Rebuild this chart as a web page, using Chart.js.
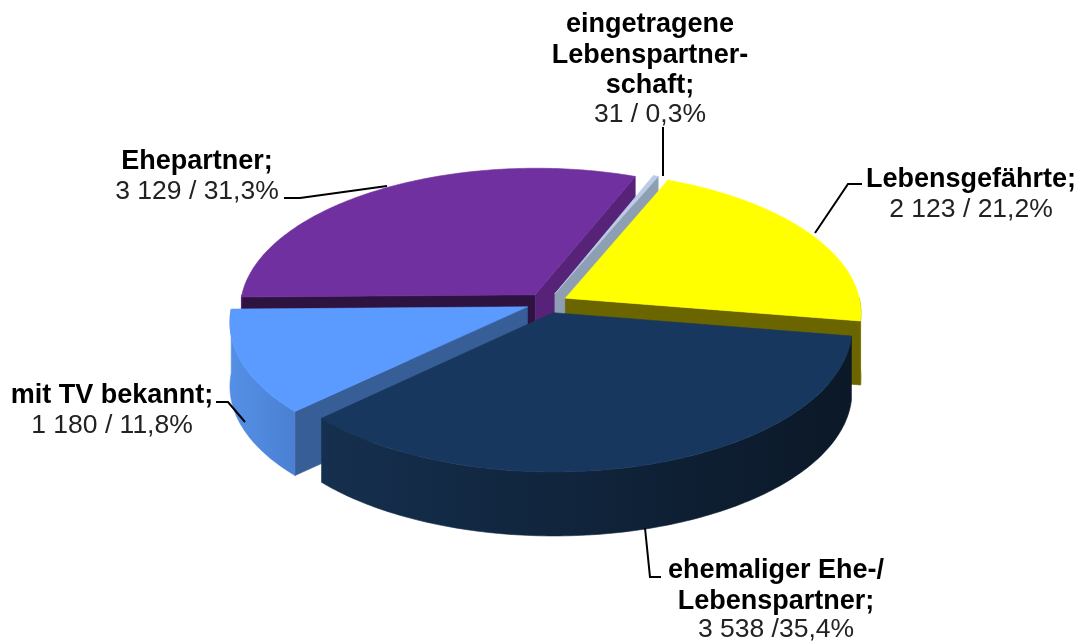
<!DOCTYPE html>
<html><head><meta charset="utf-8">
<style>html,body{margin:0;padding:0;background:#fff;overflow:hidden}canvas{display:block}</style>
<script src="https://cdn.jsdelivr.net/npm/chart.js@4/dist/chart.umd.min.js"></script>
</head><body><canvas id="c" width="1081" height="641"></canvas>
<script>
const categories = ["eingetragene Lebenspartnerschaft","Lebensgefährte","ehemaliger Ehe-/Lebenspartner","mit TV bekannt","Ehepartner"];
const counts = [31,2123,3538,1180,3129];
const boldLines = [["eingetragene","Lebenspartner-","schaft;"],["Lebensgefährte;"],["ehemaliger Ehe-/","Lebenspartner;"],["mit TV bekannt;"],["Ehepartner;"]];
const valueLines = ["31 / 0,3%","2 123 / 21,2%","3 538 /35,4%","1 180 / 11,8%","3 129 / 31,3%"];
const topColors = ["#b9cde5","#ffff00","#17375e","#5b9bff","#7030a0"];
const startFaceColors = ["#8e9fb3","#6b6500","#12293f","#375e96","#2e1240"];
const endFaceColors = ["#8e9fb3","#6b6500","#12293f","#375e96","#562379"];
const wallColors = [["#8e9fb3","#8e9fb3"],["#807a00","#6b6500"],["#0b1827","#152f4e"],["#4a80d2","#5590e6"],["#562379","#562379"]];
const drawOrder = [4,0,1,3,2];
const view = {k:0.478, depth:64, persp:2900};
const labelLayout = [
 {x:650,y:[25,56,86,115],line:[[663,127],[663,176]]},
 {x:971,y:[180,210],line:[[815,233],[848,184],[862,184]]},
 {x:776,y:[571,602,630],line:[[645,528],[650,577],[661,577]]},
 {x:112,y:[396,426],line:[[245,422],[228,402],[216,402]]},
 {x:197,y:[162,192],line:[[387,186],[300,198],[284,198]]}
];
function project(a,lx,ly,z){
  const s=1/(1-ly/view.persp);
  return [a.x+lx*s, a.y+ly*view.k*s+z];
}
function poly(ctx,pts,fill){
  ctx.beginPath();
  pts.forEach((p,i)=>i?ctx.lineTo(p[0],p[1]):ctx.moveTo(p[0],p[1]));
  ctx.closePath();ctx.fillStyle=fill;ctx.fill();
  ctx.strokeStyle=fill;ctx.lineWidth=0.6;ctx.stroke();
}
function drawSlice(ctx,arc,i){
  const p=arc.getProps(['x','y','startAngle','endAngle','outerRadius'],true);
  const a1=p.startAngle,a2=p.endAngle,R=p.outerRadius,off=arc.options.offset,mid=(a1+a2)/2;
  const ox=Math.cos(mid)*off,oy=Math.sin(mid)*off;
  const rim=(a,z)=>project(p,ox+Math.cos(a)*R,oy+Math.sin(a)*R,z);
  const apex=z=>project(p,ox,oy,z);
  const h=view.depth;
  if(Math.cos(a1)<0) poly(ctx,[apex(0),rim(a1,0),rim(a1,h),apex(h)],startFaceColors[i]);
  if(Math.cos(a2)>0) poly(ctx,[apex(0),rim(a2,0),rim(a2,h),apex(h)],endFaceColors[i]);
  // outer wall: the part of the rim facing the viewer
  const w1=Math.max(a1,0),w2=Math.min(a2,Math.PI);
  const ranges=[[w1,w2],[Math.max(a1,2*Math.PI),Math.min(a2,3*Math.PI)]];
  ranges.forEach(([b1,b2])=>{
    if(b2<=b1) return;
    const n=Math.ceil((b2-b1)*60),up=[],dn=[];
    for(let j=0;j<=n;j++){const a=b1+(b2-b1)*j/n;up.push(rim(a,0));dn.unshift(rim(a,h));}
    const xs=up.concat(dn).map(q=>q[0]);
    const g=ctx.createLinearGradient(Math.min(...xs),0,Math.max(...xs),0);
    g.addColorStop(0,wallColors[i][1]);g.addColorStop(1,wallColors[i][0]);
    poly(ctx,up.concat(dn),g);
  });
  const n=Math.ceil((a2-a1)*60)+1,pts=[apex(0)];
  for(let j=0;j<=n;j++)pts.push(rim(a1+(a2-a1)*j/n,0));
  poly(ctx,pts,arc.options.backgroundColor);
}
const pie3d={id:'pie3d',
  beforeDatasetDraw(chart,args){
    const ctx=chart.ctx,arcs=args.meta.data;
    ctx.save();
    drawOrder.forEach(i=>drawSlice(ctx,arcs[i],i));
    ctx.restore();
    return false;
  },
  afterDraw(chart){
    const ctx=chart.ctx;
    ctx.save();
    labelLayout.forEach((l,i)=>{
      ctx.beginPath();
      l.line.forEach((q,j)=>j?ctx.lineTo(q[0],q[1]):ctx.moveTo(q[0],q[1]));
      ctx.strokeStyle="#000";ctx.lineWidth=2;ctx.lineJoin="miter";ctx.stroke();
      ctx.textAlign="center";ctx.textBaseline="middle";
      ctx.fillStyle="#000";
      ctx.font="bold 27px 'Liberation Sans', Arial, sans-serif";
      boldLines[i].forEach((t,j)=>ctx.fillText(t,l.x,l.y[j]));
      ctx.fillStyle="#222";
      ctx.font="26.5px 'Liberation Sans', Arial, sans-serif";
      ctx.fillText(valueLines[i],l.x,l.y[boldLines[i].length]);
    });
    ctx.restore();
  }
};
new Chart(document.getElementById('c'),{
  type:'pie',
  data:{labels:categories,datasets:[{data:counts,backgroundColor:topColors,offset:21,borderWidth:0}]},
  options:{responsive:false,animation:false,rotation:21.7,radius:295,
    layout:{padding:{left:13,right:0,top:0,bottom:35}},
    plugins:{legend:{display:false},tooltip:{enabled:false}},events:[]},
  plugins:[pie3d]
});
</script></body></html>
